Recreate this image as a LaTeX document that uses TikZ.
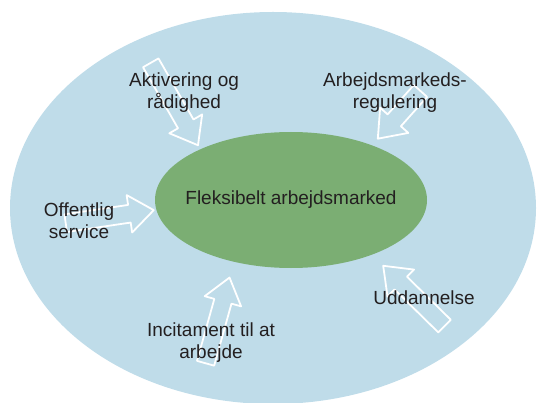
\documentclass[tikz,border=0pt]{standalone}
\usepackage{fontspec}
\setmainfont{Liberation Sans}
\usetikzlibrary{shapes.geometric, shapes.arrows, positioning}
\definecolor{Lysblaa}{RGB}{191,220,233}
\definecolor{Kernegroen}{RGB}{123,174,115}
\definecolor{Tekstgraa}{RGB}{35,31,32}
\begin{document}
\begin{tikzpicture}[
  x=1pt, y=-1pt,
  font=\fontsize{19}{22}\selectfont,
  felt/.style={ellipse, inner sep=0pt},
  pil/.style={single arrow, draw=white, line width=1.8pt, line join=round,
              inner xsep=0pt, inner ysep=8pt, single arrow head extend=10pt,
              single arrow tip angle=75},
  lbl/.style={align=center, text=Tekstgraa, inner sep=0pt}
]
\useasboundingbox (0,0) rectangle (537,403);

% felter
\node[felt, fill=Lysblaa, minimum width=526pt, minimum height=392pt] (ydre) at (273,208) {};
\node[felt, fill=Kernegroen, minimum width=272pt, minimum height=136pt] (kerne) at (291,200) {};

% pile mod kernen
\node[pil, minimum height=95pt, rotate=-60.2]  (pAkt) at (171.5,99) {};
\node[pil, minimum height=64pt, rotate=-131.8] (pReg) at (403,110.5) {};
\node[pil, minimum height=89pt, rotate=8.4]    (pOff) at (104,217.5) {};
\node[pil, minimum height=89pt, rotate=74.4]   (pInc) at (216,326) {};
\node[pil, minimum height=86pt, rotate=135.5]  (pUdd) at (418,300) {};

% tekster
\node[lbl] (kt)  at (kerne)   {Fleksibelt arbejdsmarked};
\node[lbl] (akt) at (184,93)  {Aktivering og\\rådighed};
\node[lbl] (reg) at (395,93)  {Arbejdsmarkeds-\\regulering};
\node[lbl] (off) at (79,221)  {Offentlig\\service};
\node[lbl] (inc) at (211,343) {Incitament til at\\arbejde};
\node[lbl] (udd) at (424,298) {Uddannelse};
\end{tikzpicture}
\end{document}
